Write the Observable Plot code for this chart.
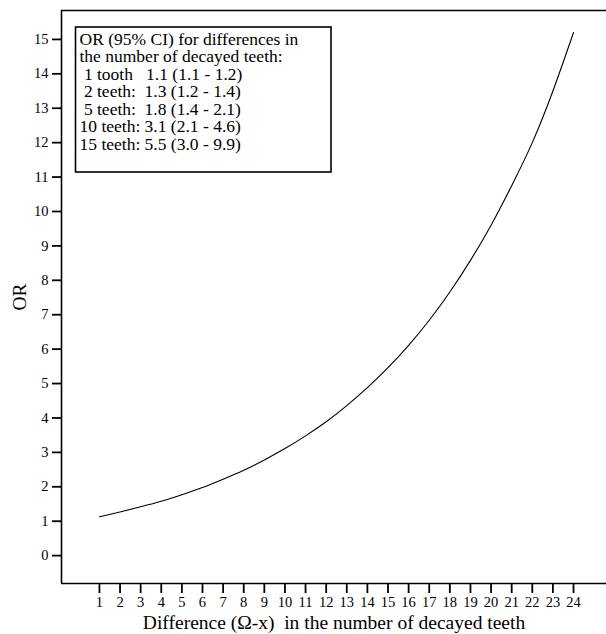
<!DOCTYPE html>
<html>
<head>
<meta charset="utf-8">
<script src="https://cdn.jsdelivr.net/npm/d3@7"></script>
<script src="https://cdn.jsdelivr.net/npm/@observablehq/plot@0.6"></script>
<style>
  html, body { margin: 0; padding: 0; background: #fff; }
  #chart svg { font-family: "Liberation Serif", "Times New Roman", serif; }
  #chart svg text { white-space: pre; }
</style>
</head>
<body>
<div id="chart"></div>
<script>
// Data
const difference = [1,2,3,4,5,6,7,8,9,10,11,12,13,14,15,16,17,18,19,20,21,22,23,24];
const oddsRatio = [1.13,1.27,1.42,1.58,1.77,1.98,2.22,2.48,2.78,3.11,3.48,3.89,4.36,4.88,5.46,6.11,6.84,7.66,8.58,9.6,10.75,12.0,13.5,15.2];
const xTicks = [1,2,3,4,5,6,7,8,9,10,11,12,13,14,15,16,17,18,19,20,21,22,23,24];
const yTicks = [0,1,2,3,4,5,6,7,8,9,10,11,12,13,14,15];
const xDomain = [-0.84, 25.6];
const yDomain = [-0.81, 15.84];
const legendLines = [
  "OR (95% CI) for differences in",
  "the number of decayed teeth:",
  " 1 tooth   1.1 (1.1 - 1.2)",
  " 2 teeth:  1.3 (1.2 - 1.4)",
  " 5 teeth:  1.8 (1.4 - 2.1)",
  "10 teeth: 3.1 (2.1 - 4.6)",
  "15 teeth: 5.5 (3.0 - 9.9)"
];
const xLabel = "Difference (\u03A9-x)  in the number of decayed teeth";
const yLabel = "OR";

const data = difference.map((d, i) => ({x: d, y: oddsRatio[i]}));

const chart = Plot.plot({
  width: 606,
  height: 634,
  marginLeft: 61,
  marginRight: 0,
  marginTop: 10,
  marginBottom: 51,
  style: {fontFamily: '"Liberation Serif", "Times New Roman", serif', color: "#000", background: "#fff"},
  x: {domain: xDomain},
  y: {domain: yDomain},
  marks: [
    Plot.axisY({
      ticks: yTicks, tickSize: 9, tickPadding: 4, tickFormat: d => String(d),
      label: yLabel, labelAnchor: "center", labelArrow: "none", labelOffset: 49
    }),
    Plot.axisX({
      ticks: xTicks, tickSize: 10, tickPadding: 3, tickFormat: d => String(d),
      label: xLabel, labelAnchor: "center", labelArrow: "none", labelOffset: 45
    }),
    Plot.ruleY([yDomain[1]], {stroke: "#000", strokeWidth: 1.6}),
    Plot.ruleY([yDomain[0]], {stroke: "#000", strokeWidth: 1.6}),
    Plot.ruleX([xDomain[0]], {stroke: "#000", strokeWidth: 1.6}),
    Plot.line(data, {x: "x", y: "y", stroke: "#000", strokeWidth: 1.1, curve: "natural"}),
    Plot.text([legendLines.join("\n")], {
      frameAnchor: "top-left", dx: 18, dy: 22, textAnchor: "start", lineAnchor: "top",
      lineHeight: 1.0, fontSize: 17.5, fill: "#000"
    })
  ]
});

document.getElementById("chart").appendChild(chart);

const svg = d3.select(chart);
// legend box around the annotation text
svg.append("rect")
  .attr("x", 75.5).attr("y", 27)
  .attr("width", 255.5).attr("height", 145)
  .attr("fill", "none").attr("stroke", "#000").attr("stroke-width", 1.6);

// axis styling
svg.selectAll("[aria-label='y-axis tick'], [aria-label='x-axis tick']")
  .attr("stroke-width", 1.8).attr("stroke", "#000");
svg.selectAll("[aria-label='y-axis tick label'], [aria-label='x-axis tick label']")
  .attr("font-size", 14.5).attr("fill", "#000");
svg.selectAll("[aria-label='y-axis label'], [aria-label='x-axis label']")
  .attr("font-size", 19.5).attr("fill", "#000");
</script>
</body>
</html>
